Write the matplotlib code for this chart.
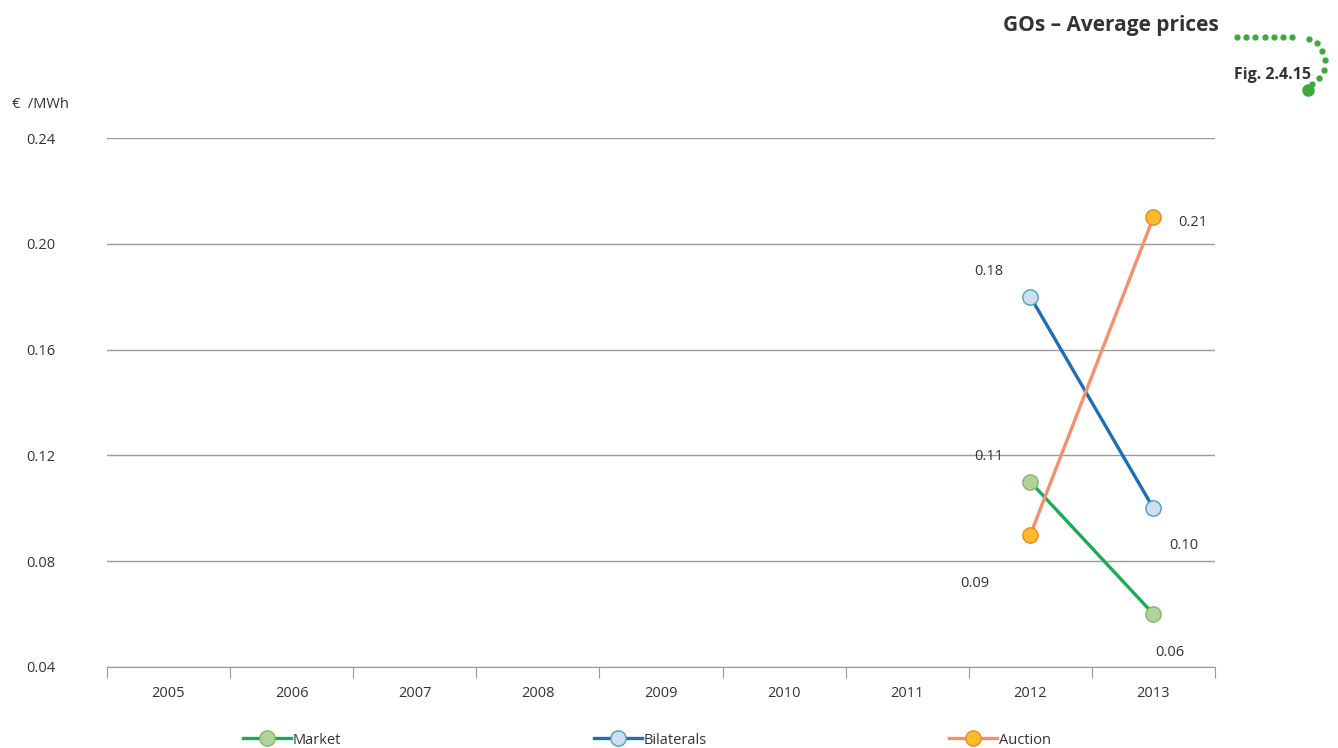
import numpy as np
import matplotlib
matplotlib.use("Agg")
from matplotlib import pyplot as plt
from matplotlib.lines import Line2D

years = ["2005", "2006", "2007", "2008", "2009", "2010", "2011", "2012", "2013"]
series_names = ["Market", "Bilaterals", "Auction"]
market = [None, None, None, None, None, None, None, 0.11, 0.06]
bilaterals = [None, None, None, None, None, None, None, 0.18, 0.10]
auction = [None, None, None, None, None, None, None, 0.09, 0.21]
y_ticks = [0.04, 0.08, 0.12, 0.16, 0.20, 0.24]

line_colors = ["#1bab55", "#1f6db5", "#f4906e"]
face_colors = ["#b3d29b", "#cfdeee", "#fdbb2b"]
edge_colors = ["#86b56a", "#47a0c6", "#e58a2c"]
# label offsets (points) per series for the two visible values
label_offsets = [[(-30, 18), (12, -28)], [(-30, 18), (22, -27)], [(-40, -35), (28, -4)]]

plt.rcParams["font.family"] = ["Open Sans", "DejaVu Sans"]
text_color = "#333333"

fig = plt.figure(figsize=(13.38, 7.48), dpi=100)
ax = fig.add_axes([107 / 1338, 1 - 667 / 748, (1215 - 107) / 1338, (667 - 138) / 748])

x = np.arange(len(years))
all_series = [market, bilaterals, auction]
handles = []
for vals, name, lc, fc, ec, offs in zip(all_series, series_names, line_colors,
                                        face_colors, edge_colors, label_offsets):
    v = np.array([np.nan if a is None else a for a in vals], dtype=float)
    ax.plot(x, v, color=lc, lw=2.4, zorder=3)
    ax.plot(x, v, ls="none", marker="o", ms=11, mfc=fc, mec=ec, mew=1, zorder=4)
    idx = [i for i in range(len(v)) if not np.isnan(v[i])]
    for i, off in zip(idx, offs):
        ax.annotate(f"{v[i]:.2f}", (x[i], v[i]), xytext=off, textcoords="offset points",
                    ha="center", va="center", fontsize=10.5, color=text_color)
    handles.append(Line2D([], [], color=lc, lw=2.4, marker="o", ms=11, mfc=fc, mec=ec,
                          mew=1, label=name))

ax.set_xlim(-0.5, len(years) - 0.5)
ax.set_ylim(0.04, 0.24)
ax.set_yticks(y_ticks)
ax.set_yticklabels([f"{t:.2f}" for t in y_ticks])
ax.yaxis.grid(True, color="#9a9a9a", lw=1)
ax.set_axisbelow(True)
for s in ["top", "right", "left"]:
    ax.spines[s].set_visible(False)
ax.spines["bottom"].set_color("#9a9a9a")
ax.tick_params(axis="y", length=0, pad=58, labelsize=10.5, labelcolor=text_color)
for lab in ax.get_yticklabels():
    lab.set_horizontalalignment("left")
ax.set_xticks(np.arange(len(years) + 1) - 0.5)
ax.set_xticklabels([])
ax.set_xticks(x, minor=True)
ax.set_xticklabels(years, minor=True)
ax.tick_params(axis="x", which="major", length=8, color="#9a9a9a", direction="out")
ax.tick_params(axis="x", which="minor", length=0, pad=14, labelsize=10.5, labelcolor=text_color)

fig.text(12 / 1338, 1 - 104 / 748, "€  /MWh", fontsize=10.5, color=text_color, va="center")

fig.text(1219 / 1338, 1 - 26 / 748, "GOs – Average prices", fontsize=15, fontweight="bold",
         color=text_color, ha="right", va="center")
fig.text(1311 / 1338, 1 - 75 / 748, "Fig. 2.4.15", fontsize=11.5, fontweight="bold",
         color=text_color, ha="right", va="center")

# green dotted decoration in pixel space
deco = fig.add_axes([0, 0, 1, 1], zorder=-1)
deco.set_xlim(0, 1338)
deco.set_ylim(748, 0)
deco.axis("off")
hx = np.arange(1237, 1301, 9.2)
deco.plot(hx, np.full_like(hx, 37), ls="none", marker="o", ms=3.5, color="#3aab3a")
ang = np.radians(np.arange(70, -75, -22))
deco.plot(1300 + 25 * np.cos(ang), 62 - 25 * np.sin(ang), ls="none", marker="o",
          ms=3.5, color="#3aab3a")
deco.plot([1308], [90], marker="o", ms=8, color="#3aab3a")

legend_x = [243, 594, 949]
for h, lx in zip(handles, legend_x):
    fig.legend(handles=[h], loc="center left", bbox_to_anchor=(lx / 1338, 1 - 740 / 748),
               frameon=False, handlelength=3.3, handletextpad=0.1, borderpad=0,
               borderaxespad=0, fontsize=10.5, labelcolor=text_color)

fig.savefig("out.png", dpi=100)
